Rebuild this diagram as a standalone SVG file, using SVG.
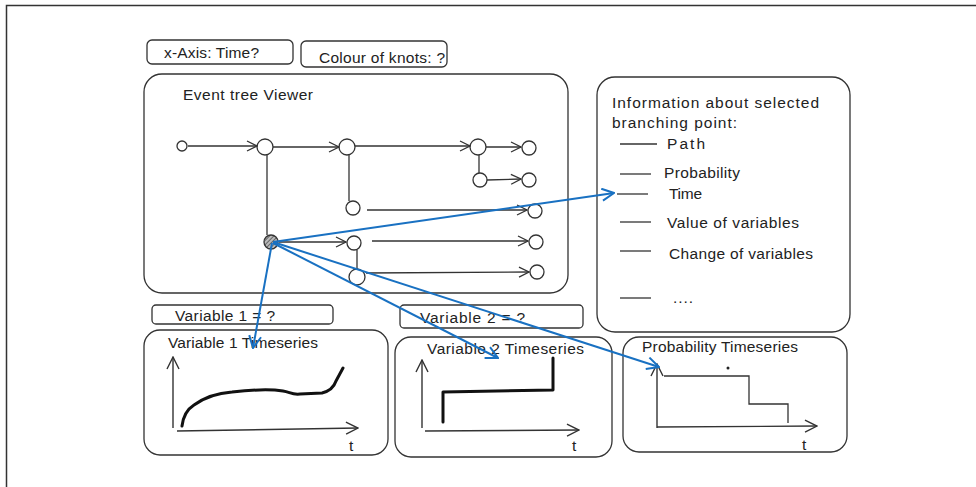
<svg xmlns="http://www.w3.org/2000/svg" width="976" height="487" viewBox="0 0 976 487">
<style>
.box{fill:none;stroke:#333;stroke-width:1.3}
.ln{fill:none;stroke:#333;stroke-width:1.3}
.knot{fill:#fff;stroke:#333;stroke-width:1.3}
.edge{fill:none;stroke:#333;stroke-width:1.3;marker-end:url(#ah)}
.blue{fill:none;stroke:#1971c2;stroke-width:2;marker-end:url(#bh)}
.axis{fill:none;stroke:#333;stroke-width:1.4;marker-end:url(#ax)}
.curve{fill:none;stroke:#111;stroke-width:3;stroke-linejoin:round;stroke-linecap:round}
text{font-family:"Liberation Sans",Arial,sans-serif;fill:#222;font-size:15.5px}
</style>
<defs>
<marker id="ah" viewBox="0 0 12 12" refX="11" refY="6" markerWidth="12" markerHeight="12" orient="auto" markerUnits="userSpaceOnUse"><path d="M1,1 L11,6 L1,11" fill="none" stroke="#333" stroke-width="1.3"/></marker>
<marker id="ax" viewBox="0 0 14 14" refX="13" refY="7" markerWidth="14" markerHeight="14" orient="auto" markerUnits="userSpaceOnUse"><path d="M1,1 L13,7 L1,13" fill="none" stroke="#333" stroke-width="1.4"/></marker>
<marker id="bh" viewBox="0 0 14 14" refX="13" refY="7" markerWidth="14" markerHeight="14" orient="auto" markerUnits="userSpaceOnUse"><path d="M1,1 L13,7 L1,13" fill="none" stroke="#1971c2" stroke-width="2"/></marker>
<pattern id="hatch" width="3" height="3" patternUnits="userSpaceOnUse" patternTransform="rotate(45)"><rect width="3" height="3" fill="#bbb"/><line x1="0" y1="0" x2="0" y2="3" stroke="#444" stroke-width="1.4"/></pattern>
</defs>
<rect width="976" height="487" fill="#fff"/>
<g id="frame"><path d="M6.5,487 L6.5,5.5 L976,5.5" fill="none" stroke="#333" stroke-width="1.5"/></g>

<g id="xaxis-box"><rect class="box" x="147" y="40" width="146" height="24" rx="5"/><text x="164" y="58" textLength="95">x-Axis: Time?</text></g>
<g id="colour-box"><rect class="box" x="301" y="41" width="146" height="26" rx="5"/><text x="319" y="63" textLength="126">Colour of knots: ?</text></g>

<g id="event-tree-viewer"><rect class="box" x="144" y="74" width="424" height="219" rx="18"/><text x="183" y="100" textLength="130">Event tree Viewer</text></g>

<g id="knot0"><circle class="knot" cx="182" cy="146" r="5"/></g>
<g id="knot1"><circle class="knot" cx="265" cy="147" r="8"/></g>
<g id="knot2"><circle class="knot" cx="347" cy="147" r="8"/></g>
<g id="knot3"><circle class="knot" cx="478" cy="147" r="8"/></g>
<g id="knot4"><circle class="knot" cx="529" cy="148" r="7"/></g>
<g id="knot5"><circle class="knot" cx="480" cy="180" r="7"/></g>
<g id="knot6"><circle class="knot" cx="529" cy="180" r="7"/></g>
<g id="knot7"><circle class="knot" cx="353" cy="208" r="7"/></g>
<g id="knot8"><circle class="knot" cx="535" cy="211" r="7"/></g>
<g id="knot9"><circle cx="271" cy="242" r="7" fill="url(#hatch)" stroke="#333" stroke-width="1.3"/></g>
<g id="knot10"><circle class="knot" cx="354" cy="243" r="7"/></g>
<g id="knot11"><circle class="knot" cx="536" cy="242" r="7"/></g>
<g id="knot12"><circle class="knot" cx="357" cy="277" r="8"/></g>
<g id="knot13"><circle class="knot" cx="537" cy="272" r="7"/></g>

<g id="info-box"><rect class="box" x="597" y="77" width="253" height="255" rx="18"/>
<text x="612" y="108" font-size="16.5" textLength="207">Information about selected</text>
<text x="612" y="128" font-size="16.5" textLength="125">branching point:</text>
<line class="ln" x1="620" y1="144" x2="657" y2="144"/><text x="667" y="149" textLength="38">Path</text>
<line class="ln" x1="620" y1="174" x2="651" y2="174"/><text x="664" y="178" textLength="76">Probability</text>
<line class="ln" x1="617" y1="194" x2="648" y2="194"/><text x="669" y="199" textLength="33">Time</text>
<line class="ln" x1="620" y1="222" x2="651" y2="222" stroke="#777"/><text x="667" y="228" textLength="132">Value of variables</text>
<line class="ln" x1="620" y1="251" x2="651" y2="251"/><text x="669" y="259" textLength="144">Change of variables</text>
<line class="ln" x1="620" y1="298" x2="651" y2="298"/><text x="673" y="303" textLength="20">....</text>
</g>

<g id="var1-box"><rect class="box" x="152" y="305" width="181" height="19" rx="4"/><text x="175" y="321" textLength="100">Variable 1 = ?</text></g>
<g id="var1-timeseries"><rect class="box" x="144" y="330" width="244" height="125" rx="16"/>
<text x="168" y="348" textLength="150">Variable 1 Timeseries</text>
<line class="axis" x1="173" y1="428" x2="173" y2="357"/>
<line class="axis" x1="177" y1="431" x2="358" y2="428"/>
<text x="349" y="451">t</text>
<path class="curve" d="M182,426 C183,418 186,410 194,405 C205,397 218,393 232,392 C250,390 270,389 283,391 C290,392 292,395 300,394 L322,393 C330,391 334,387 336,381 L343,368"/>
</g>

<g id="var2-box"><rect class="box" x="400" y="305" width="183" height="23" rx="4"/><text x="420" y="323" textLength="105">Variable 2 = ?</text></g>
<g id="var2-timeseries"><rect class="box" x="395" y="337" width="217" height="120" rx="16"/>
<text x="427" y="354" textLength="157">Variable 2 Timeseries</text>
<line class="axis" x1="422" y1="428" x2="422" y2="360"/>
<line class="axis" x1="425" y1="431" x2="579" y2="430"/>
<text x="572" y="451">t</text>
<path class="curve" d="M443,422 L443,392 L553,390 L553,358"/>
</g>

<g id="prob-timeseries"><rect class="box" x="623" y="337" width="224" height="115" rx="16"/>
<text x="642" y="352" textLength="156">Probability Timeseries</text>
<line class="axis" x1="657" y1="428" x2="657" y2="364"/>
<line class="axis" x1="657" y1="427" x2="817" y2="426"/>
<text x="802" y="450">t</text>
<path class="ln" d="M664,376 L749,376 L749,404 L788,404 L788,423"/>
<circle cx="728" cy="368" r="1.5" fill="#222"/>
</g>

<g id="connectors">
<line class="edge" x1="188" y1="146" x2="257" y2="146"/>
<line class="edge" x1="273" y1="147" x2="339" y2="147"/>
<line class="edge" x1="355" y1="146" x2="470" y2="146"/>
<line class="edge" x1="486" y1="147" x2="521" y2="147"/>
<line class="ln" x1="479" y1="155" x2="479" y2="173"/>
<line class="edge" x1="487" y1="180" x2="521" y2="179"/>
<line class="ln" x1="349" y1="155" x2="349" y2="201"/>
<line class="edge" x1="367" y1="210" x2="527" y2="210"/>
<line class="ln" x1="267" y1="155" x2="267" y2="235"/>
<line class="edge" x1="279" y1="242" x2="346" y2="242"/>
<line class="ln" x1="357" y1="250" x2="357" y2="270"/>
<line class="edge" x1="372" y1="241" x2="528" y2="241"/>
<line class="edge" x1="366" y1="273" x2="529" y2="272"/>
<line class="blue" x1="273" y1="242" x2="614" y2="193"/>
<line class="blue" x1="272" y1="243" x2="253" y2="348"/>
<line class="blue" x1="273" y1="243" x2="498" y2="358"/>
<line class="blue" x1="273" y1="242" x2="659" y2="367"/>
</g>
</svg>
